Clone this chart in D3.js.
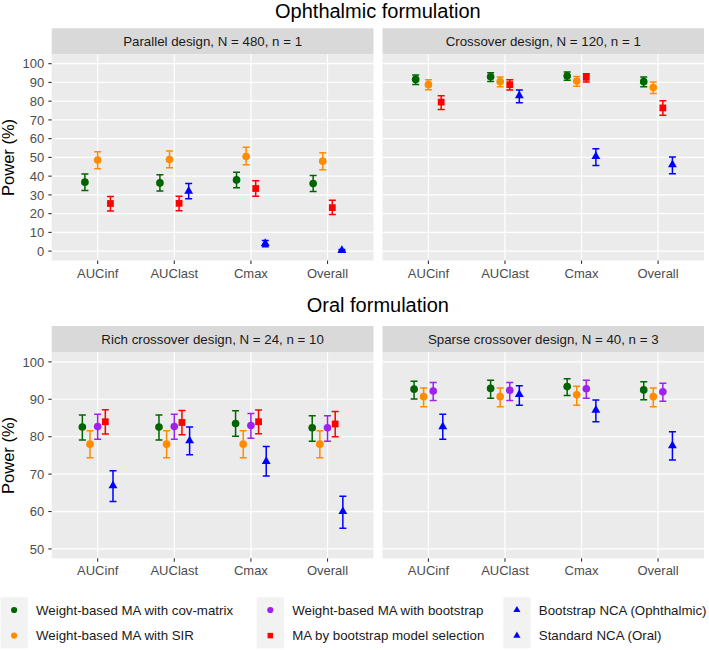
<!DOCTYPE html>
<html>
<head>
<meta charset="utf-8">
<script src="https://cdn.jsdelivr.net/npm/d3@7"></script>
<style>
  body { margin: 0; background: #fff; }
  svg { display: block; font-family: "Liberation Sans", Arial, sans-serif; }
  .grid line { stroke: #fff; stroke-width: 1.2; }
  .tick-mark { stroke: #333; stroke-width: 1.1; }
  .tick-label { fill: #4d4d4d; font-size: 13px; }
  .strip-label { fill: #1a1a1a; font-size: 13.3px; }
</style>
</head>
<body>
<svg id="chart" width="709" height="650"></svg>
<script>
const metrics = ["AUCinf", "AUClast", "Cmax", "Overall"];

const methods = [
    "Weight-based MA with cov-matrix",
    "Weight-based MA with SIR",
    "Weight-based MA with bootstrap",
    "MA by bootstrap model selection",
    "Bootstrap NCA (Ophthalmic)",
    "Standard NCA (Oral)"
];

const methodColors = ["#006400", "#ff8c00", "#a020f0", "#ff0000", "#0000ff", "#0000ff"];
const methodShapes = [d3.symbolCircle, d3.symbolCircle, d3.symbolCircle, d3.symbolSquare, d3.symbolTriangle, d3.symbolTriangle];

const topTicks = [0, 10, 20, 30, 40, 50, 60, 70, 80, 90, 100];
const bottomTicks = [50, 60, 70, 80, 90, 100];

// rows: metric, method index, power, lower, upper
const parallelRows = [
    ["AUCinf", 0, 36.8, 32.3, 41.1],
    ["AUCinf", 1, 48.6, 43.9, 53.0],
    ["AUCinf", 3, 25.4, 21.4, 29.1],
    ["AUClast", 0, 36.4, 32.1, 40.7],
    ["AUClast", 1, 48.9, 44.5, 53.4],
    ["AUClast", 3, 25.5, 21.6, 29.3],
    ["AUClast", 4, 32.0, 27.9, 36.1],
    ["Cmax", 0, 38.0, 33.8, 42.1],
    ["Cmax", 1, 50.5, 46.1, 55.4],
    ["Cmax", 3, 33.4, 29.3, 37.5],
    ["Cmax", 4, 4.1, 2.3, 5.7],
    ["Overall", 0, 36.1, 31.8, 40.4],
    ["Overall", 1, 48.0, 43.4, 52.5],
    ["Overall", 3, 23.2, 19.5, 27.1],
    ["Overall", 4, 0.4, 0.0, 0.9]
];

const crossoverRows = [
    ["AUCinf", 0, 91.6, 88.9, 93.9],
    ["AUCinf", 1, 88.8, 86.1, 91.4],
    ["AUCinf", 3, 79.5, 75.5, 82.9],
    ["AUClast", 0, 93.0, 90.5, 95.2],
    ["AUClast", 1, 90.4, 87.7, 92.9],
    ["AUClast", 3, 88.8, 85.9, 91.4],
    ["AUClast", 4, 82.9, 79.1, 85.9],
    ["Cmax", 0, 93.4, 91.1, 95.5],
    ["Cmax", 1, 90.7, 88.0, 93.2],
    ["Cmax", 3, 92.7, 90.2, 94.6],
    ["Cmax", 4, 50.5, 45.7, 54.6],
    ["Overall", 0, 90.4, 87.7, 92.9],
    ["Overall", 1, 87.3, 84.1, 90.2],
    ["Overall", 3, 76.4, 72.5, 80.2],
    ["Overall", 4, 46.1, 41.3, 50.2]
];

const richRows = [
    ["AUCinf", 0, 82.6, 79.1, 85.8],
    ["AUCinf", 1, 78.0, 74.4, 81.6],
    ["AUCinf", 2, 82.7, 79.3, 86.0],
    ["AUCinf", 3, 84.0, 80.7, 87.2],
    ["AUCinf", 5, 66.9, 62.7, 70.9],
    ["AUClast", 0, 82.6, 79.1, 85.8],
    ["AUClast", 1, 78.0, 74.4, 81.6],
    ["AUClast", 2, 82.7, 79.3, 86.0],
    ["AUClast", 3, 83.8, 80.5, 87.0],
    ["AUClast", 5, 78.9, 75.2, 82.6],
    ["Cmax", 0, 83.5, 80.1, 86.9],
    ["Cmax", 1, 78.0, 74.4, 81.6],
    ["Cmax", 2, 83.0, 79.6, 86.2],
    ["Cmax", 3, 84.0, 80.8, 87.1],
    ["Cmax", 5, 73.4, 69.5, 77.4],
    ["Overall", 0, 82.4, 78.8, 85.6],
    ["Overall", 1, 78.0, 74.4, 81.6],
    ["Overall", 2, 82.4, 78.8, 85.6],
    ["Overall", 3, 83.4, 80.0, 86.7],
    ["Overall", 5, 60.0, 55.5, 64.1]
];

const sparseRows = [
    ["AUCinf", 0, 92.7, 90.1, 94.8],
    ["AUCinf", 1, 90.7, 88.0, 93.0],
    ["AUCinf", 2, 92.2, 89.7, 94.5],
    ["AUCinf", 5, 82.7, 79.3, 86.0],
    ["AUClast", 0, 92.9, 90.3, 95.1],
    ["AUClast", 1, 90.7, 88.0, 93.0],
    ["AUClast", 2, 92.4, 89.7, 94.5],
    ["AUClast", 5, 91.3, 88.4, 93.6],
    ["Cmax", 0, 93.4, 91.0, 95.5],
    ["Cmax", 1, 91.2, 88.4, 93.5],
    ["Cmax", 2, 92.8, 90.3, 95.1],
    ["Cmax", 5, 87.1, 84.0, 89.8],
    ["Overall", 0, 92.5, 89.9, 94.7],
    ["Overall", 1, 90.7, 88.0, 93.0],
    ["Overall", 2, 92.0, 89.5, 94.3],
    ["Overall", 5, 77.6, 73.8, 81.3]
];

const svg = d3.select('#chart');

const cols = [[51.7, 373.5], [382.5, 704]];
const rows = [
    { title: "Ophthalmic formulation", titleY: 18, strip: 28.3, top: 54.3, bottom: 260.5,
      domain: [-5, 105], ticks: topTicks },
    { title: "Oral formulation", titleY: 312, strip: 326, top: 352.5, bottom: 558.3,
      domain: [47.5, 102.5], ticks: bottomTicks }
];

const panels = [
    { row: 0, col: 0, label: "Parallel design, N = 480, n = 1", data: parallelRows },
    { row: 0, col: 1, label: "Crossover design, N = 120, n = 1", data: crossoverRows },
    { row: 1, col: 0, label: "Rich crossover design, N = 24, n = 10", data: richRows },
    { row: 1, col: 1, label: "Sparse crossover design, N = 40, n = 3", data: sparseRows }
];

rows.forEach(r => {
    svg.append('text')
        .attr('x', (cols[0][0] + cols[1][1]) / 2)
        .attr('y', r.titleY)
        .attr('text-anchor', 'middle')
        .style('font-size', '20px')
        .attr('fill', '#000')
        .text(r.title);

    // y axis title
    svg.append('text')
        .attr('transform', `translate(14 ${(r.top + r.bottom) / 2}) rotate(-90)`)
        .attr('text-anchor', 'middle')
        .style('font-size', '16.5px')
        .attr('fill', '#000')
        .text('Power (%)');
});

panels.forEach(drawPanel);

function drawPanel(p) {
    const r = rows[p.row];
    const [x0, x1] = cols[p.col];

    const x = d3.scalePoint().domain(metrics).range([x0, x1]).padding(0.6);
    const y = d3.scaleLinear().domain(r.domain).range([r.bottom, r.top]);
    const step = x.step();

    const g = svg.append('g');

    // strip
    g.append('rect')
        .attr('x', x0).attr('y', r.strip)
        .attr('width', x1 - x0).attr('height', r.top - r.strip)
        .attr('fill', '#d9d9d9');
    g.append('text')
        .attr('class', 'strip-label')
        .attr('x', (x0 + x1) / 2)
        .attr('y', (r.strip + r.top) / 2)
        .attr('dy', '0.36em')
        .attr('text-anchor', 'middle')
        .text(p.label);

    // panel
    g.append('rect')
        .attr('x', x0).attr('y', r.top)
        .attr('width', x1 - x0).attr('height', r.bottom - r.top)
        .attr('fill', '#ebebeb');

    const grid = g.append('g').attr('class', 'grid');
    grid.selectAll('.hl')
        .data(r.ticks)
        .enter().append('line')
        .attr('x1', x0).attr('x2', x1)
        .attr('y1', d => y(d)).attr('y2', d => y(d));
    grid.selectAll('.vl')
        .data(metrics)
        .enter().append('line')
        .attr('x1', d => x(d)).attr('x2', d => x(d))
        .attr('y1', r.top).attr('y2', r.bottom);

    // x axis
    g.selectAll('.xt')
        .data(metrics)
        .enter().append('line')
        .attr('class', 'tick-mark')
        .attr('x1', d => x(d)).attr('x2', d => x(d))
        .attr('y1', r.bottom).attr('y2', r.bottom + 3.4);
    g.selectAll('.xl')
        .data(metrics)
        .enter().append('text')
        .attr('class', 'tick-label')
        .attr('x', d => x(d))
        .attr('y', r.bottom + 17)
        .attr('text-anchor', 'middle')
        .text(d => d);

    // y axis only on the left column
    if (p.col == 0) {
        g.selectAll('.yt')
            .data(r.ticks)
            .enter().append('line')
            .attr('class', 'tick-mark')
            .attr('x1', x0 - 3.4).attr('x2', x0)
            .attr('y1', d => y(d)).attr('y2', d => y(d));
        g.selectAll('.yl')
            .data(r.ticks)
            .enter().append('text')
            .attr('class', 'tick-label')
            .attr('x', x0 - 7.5)
            .attr('y', d => y(d))
            .attr('dy', '0.36em')
            .attr('text-anchor', 'end')
            .text(d => d);
    }

    // dodge: groups present at each metric share a 0.5 wide slot
    const pts = p.data.map(d => ({ metric: d[0], method: d[1], power: d[2], lo: d[3], hi: d[4] }));
    const byMetric = d3.group(pts, d => d.metric);
    pts.forEach(d => {
        const grp = byMetric.get(d.metric).map(e => e.method).sort((a, b) => a - b);
        const n = grp.length;
        const k = grp.indexOf(d.method);
        d.px = x(d.metric) + (k - (n - 1) / 2) * (0.5 / n) * step;
    });

    const cap = 3.5;
    const bars = g.append('g');
    bars.selectAll('path')
        .data(pts)
        .enter().append('path')
        .attr('d', d => `M${d.px - cap},${y(d.hi)}H${d.px + cap}M${d.px},${y(d.hi)}V${y(d.lo)}M${d.px - cap},${y(d.lo)}H${d.px + cap}`)
        .attr('fill', 'none')
        .attr('stroke', d => methodColors[d.method])
        .attr('stroke-width', 1.5);

    const sizes = { circle: 46, square: 46, triangle: 32 };
    g.append('g').selectAll('path')
        .data(pts)
        .enter().append('path')
        .attr('transform', d => `translate(${d.px},${y(d.power)})`)
        .attr('d', d => symbolPath(d.method, 46, 46, 34))
        .attr('fill', d => methodColors[d.method]);
}

function symbolPath(m, circleSize, squareSize, triSize) {
    const shape = methodShapes[m];
    let size = circleSize;
    if (shape === d3.symbolSquare) size = squareSize;
    if (shape === d3.symbolTriangle) size = triSize;
    return d3.symbol().type(shape).size(size)();
}

/* ===== Legend ===== */
const legendCols = [0.5, 256.7, 503.3];
const legendRowsY = [597.2, 622.8];
const keyW = 27.2, keyH = 25.6;

methods.forEach((m, i) => {
    const cx = legendCols[Math.floor(i / 2)];
    const cy = legendRowsY[i % 2];
    svg.append('rect')
        .attr('x', cx).attr('y', cy)
        .attr('width', keyW).attr('height', keyH)
        .attr('fill', '#f2f2f2');
    svg.append('path')
        .attr('transform', `translate(${cx + keyW / 2},${cy + keyH / 2})`)
        .attr('d', symbolPath(i, 30, 30, 22))
        .attr('fill', methodColors[i]);
    svg.append('text')
        .attr('x', cx + keyW + 8.3)
        .attr('y', cy + keyH / 2)
        .attr('dy', '0.36em')
        .style('font-size', '13.3px')
        .attr('fill', '#1a1a1a')
        .text(m);
});
</script>
</body>
</html>
